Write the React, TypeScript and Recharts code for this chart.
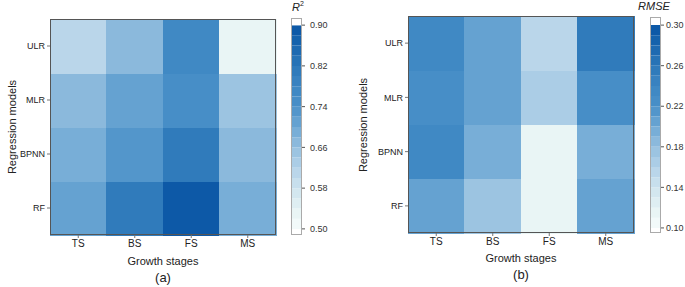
import React from 'react';
import { BarChart, Bar, XAxis, YAxis, Cell } from 'recharts';

// categories
const stages = ['TS', 'BS', 'FS', 'MS'];
const models = ['ULR', 'MLR', 'BPNN', 'RF']; // top to bottom

// R2 per model, columns follow stages
const r2ULR = [0.61, 0.67, 0.76, 0.52];
const r2MLR = [0.67, 0.72, 0.74, 0.65];
const r2BPNN = [0.70, 0.73, 0.80, 0.66];
const r2RF = [0.72, 0.81, 0.89, 0.70];

// RMSE per model
const rmseULR = [0.23, 0.21, 0.154, 0.256];
const rmseMLR = [0.222, 0.21, 0.162, 0.22];
const rmseBPNN = [0.23, 0.19, 0.12, 0.192];
const rmseRF = [0.204, 0.18, 0.12, 0.204];

// colour bar ticks
const r2Ticks = [0.5, 0.58, 0.66, 0.74, 0.82, 0.9];
const rmseTicks = [0.1, 0.14, 0.18, 0.22, 0.26, 0.3];

const FONT = '"Liberation Sans", Arial, sans-serif';
const BANDS = 20;

const stops: [number, number[]][] = [
  [0.0, [247, 252, 252]],
  [0.1, [228, 242, 243]],
  [0.2, [205, 227, 238]],
  [0.3, [179, 210, 232]],
  [0.4, [148, 191, 223]],
  [0.5, [110, 168, 212]],
  [0.6, [74, 144, 200]],
  [0.7, [61, 134, 194]],
  [0.8, [43, 119, 184]],
  [0.9, [26, 102, 175]],
  [1.0, [8, 84, 164]],
];

const ramp = (t: number) => {
  for (let i = 1; i < stops.length; i++) {
    if (t <= stops[i][0]) {
      const [t0, c0] = stops[i - 1];
      const [t1, c1] = stops[i];
      const f = (t - t0) / (t1 - t0);
      const c = c0.map((v, k) => Math.round(v + (c1[k] - v) * f));
      return `rgb(${c[0]},${c[1]},${c[2]})`;
    }
  }
  return 'rgb(8,84,164)';
};

const colourOf = (v: number, lo: number, hi: number) => {
  const idx = Math.max(0, Math.min(BANDS - 1, Math.floor(((v - lo) / (hi - lo)) * BANDS)));
  return ramp((idx + 0.5) / BANDS);
};

interface HeatProps {
  rows: number[][];
  lo: number;
  hi: number;
  left: number;
  top: number;
  bottom: number;
}

const HeatMap = ({ rows, lo, hi, left, top, bottom }: HeatProps) => {
  const width = 290;
  const height = 287;
  const data = stages.map((stage) => ({ stage }));
  const bottomUp = [...models].reverse();
  const rowsBottomUp = [...rows].reverse();
  const plotH = height - top - bottom - 34;
  return (
    <div style={{ position: 'absolute', left, top: 0 }}>
      <BarChart
        width={width}
        height={height}
        data={data}
        margin={{ top, right: 14, bottom, left: 0 }}
        barCategoryGap={0}
        barGap={0}
      >
        <XAxis
          dataKey="stage"
          height={34}
          tickSize={3}
          tickMargin={2}
          axisLine={false}
          tickLine={{ stroke: '#777' }}
          tick={{ fontSize: 10, fill: '#222', fontFamily: FONT }}
        />
        <YAxis
          type="number"
          domain={[0, 4]}
          ticks={[0.5, 1.5, 2.5, 3.5]}
          width={50}
          tickSize={3}
          tickMargin={2}
          axisLine={false}
          tickLine={{ stroke: '#777' }}
          tick={{ fontSize: 9, fill: '#222', fontFamily: FONT }}
          tickFormatter={(v: number) => bottomUp[Math.floor(v)]}
        />
        {bottomUp.map((m, r) => (
          <Bar key={m} dataKey={() => 1} stackId="cells" isAnimationActive={false}>
            {stages.map((s, c) => {
              const fill = colourOf(rowsBottomUp[r][c], lo, hi);
              return (
                <Cell key={s} fill={fill} stroke={fill} strokeWidth={1} shapeRendering="crispEdges" />
              );
            })}
          </Bar>
        ))}
      </BarChart>
      <div
        style={{
          position: 'absolute',
          left: 50,
          top,
          width: width - 50 - 14,
          height: plotH,
          border: '1px solid #555',
          boxSizing: 'border-box',
          pointerEvents: 'none',
        }}
      />
    </div>
  );
};

interface BarProps {
  ticks: number[];
  min: number;
  max: number;
  left: number;
  top: number;
  bottom: number;
  gap: number;
}

const ColourBar = ({ ticks, min, max, left, top, bottom, gap }: BarProps) => {
  const lo = ticks[0];
  const hi = ticks[ticks.length - 1];
  const step = (hi - lo) / BANDS;
  const segs = [
    { key: 'base', size: min, fill: 'none' },
    { key: 'under', size: lo - min, fill: '#ffffff' },
    ...Array.from({ length: BANDS }, (_, i) => ({
      key: `b${i}`,
      size: step,
      fill: ramp((i + 0.5) / BANDS),
    })),
    { key: 'over', size: max - hi, fill: '#ffffff' },
  ];
  const row: Record<string, any> = { name: 'bar' };
  segs.forEach((s) => (row[s.key] = s.size));
  const height = 287;
  return (
    <div style={{ position: 'absolute', left, top: 0 }}>
      <BarChart
        width={52}
        height={height}
        data={[row]}
        margin={{ top, right: 0, bottom, left: 0 }}
        barCategoryGap={0}
      >
        <XAxis dataKey="name" hide />
        <YAxis
          orientation="right"
          type="number"
          domain={[min, max]}
          allowDataOverflow
          ticks={ticks}
          width={41}
          tickSize={3}
          tickMargin={gap}
          axisLine={false}
          tickLine={{ stroke: '#555' }}
          tick={{ fontSize: 9, fill: '#333', fontFamily: FONT }}
          tickFormatter={(v: number) => v.toFixed(2)}
        />
        {segs.map((s) => (
          <Bar key={s.key} dataKey={s.key} stackId="cb" fill={s.fill} isAnimationActive={false} />
        ))}
      </BarChart>
      <div
        style={{
          position: 'absolute',
          left: 0,
          top,
          width: 11,
          height: height - top - bottom,
          border: '1px solid #aaa',
          boxSizing: 'border-box',
          pointerEvents: 'none',
        }}
      />
    </div>
  );
};

export default function App() {
  return (
    <div
      style={{
        position: 'absolute',
        left: 0,
        top: 0,
        width: 685,
        height: 287,
        overflow: 'hidden',
        background: '#fff',
        fontFamily: FONT,
      }}
    >
      <HeatMap rows={[r2ULR, r2MLR, r2BPNN, r2RF]} lo={0.5} hi={0.9} left={0} top={19} bottom={18} />
      <ColourBar ticks={r2Ticks} min={0.488} max={0.914} left={291} top={18} bottom={52} gap={5} />
      <HeatMap rows={[rmseULR, rmseMLR, rmseBPNN, rmseRF]} lo={0.1} hi={0.3} left={358} top={16} bottom={20} />
      <ColourBar ticks={rmseTicks} min={0.095} max={0.308} left={650} top={17} bottom={54} gap={2} />

      <svg width={685} height={287} style={{ position: 'absolute', left: 0, top: 0, pointerEvents: 'none' }}>
        <g fontFamily={FONT} fill="#222">
          <text x={12} y={127} fontSize={11} textAnchor="middle" dominantBaseline="central" transform="rotate(-90 12 127)">
            Regression models
          </text>
          <text x={163} y={265} fontSize={11} textAnchor="middle">Growth stages</text>
          <text x={163} y={282} fontSize={13} textAnchor="middle">(a)</text>
          <text x={292} y={11} fontSize={11} fontStyle="italic">
            R<tspan fontSize={7} dy={-5} fontStyle="normal">2</tspan>
          </text>

          <text x={363} y={125} fontSize={11} textAnchor="middle" dominantBaseline="central" transform="rotate(-90 363 125)">
            Regression models
          </text>
          <text x={521} y={262} fontSize={11} textAnchor="middle">Growth stages</text>
          <text x={521} y={279} fontSize={13} textAnchor="middle">(b)</text>
          <text x={654} y={10} fontSize={11} fontStyle="italic" textAnchor="middle">RMSE</text>
        </g>
      </svg>
    </div>
  );
}
